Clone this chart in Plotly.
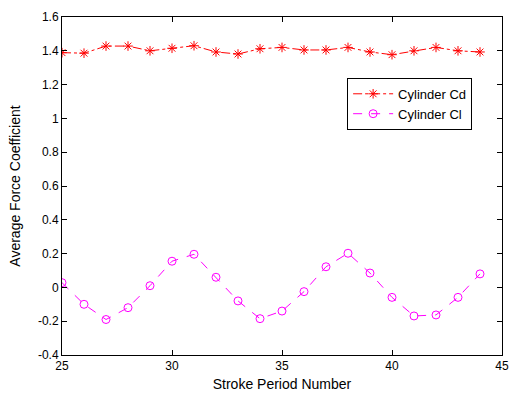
import plotly.graph_objects as go

stroke = list(range(25, 45))
cd = [1.389, 1.386, 1.428, 1.428, 1.400, 1.415, 1.430, 1.393, 1.381, 1.412,
      1.420, 1.405, 1.405, 1.420, 1.393, 1.377, 1.400, 1.420, 1.400, 1.393]
cl = [0.028, -0.100, -0.190, -0.120, 0.010, 0.155, 0.196, 0.060, -0.080, -0.185,
      -0.140, -0.025, 0.122, 0.202, 0.085, -0.059, -0.169, -0.163, -0.059, 0.080]

xticks = [25, 30, 35, 40, 45]
yticks = [-0.4, -0.2, 0, 0.2, 0.4, 0.6, 0.8, 1.0, 1.2, 1.4, 1.6]
yticktext = ["-0.4", "-0.2", "0", "0.2", "0.4", "0.6", "0.8", "1", "1.2", "1.4", "1.6"]

fig = go.Figure()
fig.add_trace(go.Scatter(x=stroke, y=cd, mode="lines+markers", name="Cylinder Cd",
                         line=dict(color="#ff0000", width=1, dash="dashdot"),
                         marker=dict(symbol="asterisk-open", size=8, color="#ff0000",
                                     line=dict(color="#ff0000", width=1))))
fig.add_trace(go.Scatter(x=stroke, y=cl, mode="lines+markers", name="Cylinder Cl",
                         line=dict(color="#ff00ff", width=1, dash="dash"),
                         marker=dict(symbol="circle-open", size=8, color="#ff00ff",
                                     line=dict(color="#ff00ff", width=1))))

axis_common = dict(showgrid=False, zeroline=False, showline=True, linecolor="black",
                   linewidth=1, mirror="ticks", ticks="inside", ticklen=5,
                   tickcolor="black", tickfont=dict(family="Liberation Sans, Arial", size=12, color="black"))

fig.update_layout(
    width=518, height=401,
    margin=dict(l=62, r=9, t=17, b=46),
    paper_bgcolor="white", plot_bgcolor="white",
    font=dict(family="Liberation Sans, Arial", size=12, color="black"),
    xaxis=dict(range=[25, 45], tickvals=xticks,
               title=dict(text="Stroke Period Number", standoff=6), **axis_common),
    yaxis=dict(range=[-0.4, 1.6], tickvals=yticks, ticktext=yticktext,
               title=dict(text="Average Force Coefficient", standoff=14), **axis_common),
    legend=dict(x=0.648, y=0.82, xanchor="left", yanchor="top",
                bordercolor="black", borderwidth=1, bgcolor="white",
                font=dict(size=13), tracegroupgap=0, itemwidth=40),
    showlegend=True,
)

fig.write_html("out.html")
